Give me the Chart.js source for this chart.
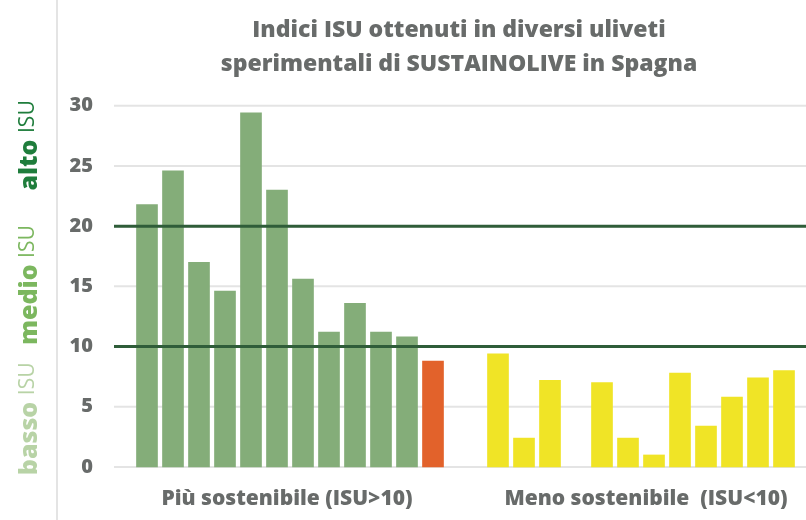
<!DOCTYPE html>
<html>
<head>
<meta charset="utf-8">
<script src="https://cdn.jsdelivr.net/npm/chart.js@4.4.1/dist/chart.umd.min.js"></script>
<style>
  html, body { margin: 0; padding: 0; background: #fff; }
  #wrap { width: 806px; height: 520px; position: relative; }
</style>
</head>
<body>
<div id="wrap"><canvas id="isuChart" width="806" height="520"></canvas></div>
<script>
const titleLines = ['Indici ISU ottenuti in diversi uliveti', 'sperimentali di SUSTAINOLIVE in Spagna'];
const groupNames = ['Più sostenibile (ISU>10)', 'Meno sostenibile  (ISU<10)'];

const moreSites = ['P1', 'P2', 'P3', 'P4', 'P5', 'P6', 'P7', 'P8', 'P9', 'P10', 'P11', 'P12'];
const moreValues = [21.8, 24.6, 17.0, 14.6, 29.4, 23.0, 15.6, 11.2, 13.6, 11.2, 10.8, 8.8];

const lessSites = ['M1', 'M2', 'M3', 'M4', 'M5', 'M6', 'M7', 'M8', 'M9', 'M10', 'M11', 'M12'];
const lessValues = [9.4, 2.4, 7.2, null, 7.0, 2.4, 1.0, 7.8, 3.4, 5.8, 7.4, 8.0];

const yTicks = [0, 5, 10, 15, 20, 25, 30];
const thresholds = [10, 20];
const bandWords = ['basso', 'medio', 'alto'];

const GREEN = '#84ad79';
const ORANGE = '#e2622b';
const YELLOW = '#f0e426';
const TEXT_GREY = '#686b6a';
const bandColors = ['#b8d3a6', '#7cb75f', '#1f7d3c'];

// the two groups sit on two hidden category axes, the second shifted by half a slot
const moreLabels = moreSites.concat(new Array(13).fill(''));
const lessLabels = new Array(14).fill('').concat(lessSites);

const decorPlugin = {
    id: 'decor',
    beforeDatasetsDraw(chart) {
        const { ctx, chartArea } = chart;
        const y = chart.scales.y;
        ctx.save();
        // left divider
        ctx.strokeStyle = '#e4e4e4';
        ctx.lineWidth = 2;
        ctx.beginPath();
        ctx.moveTo(57, 0);
        ctx.lineTo(57, chart.height);
        ctx.stroke();
        // gridlines running past the plot area
        yTicks.forEach(v => {
            const py = y.getPixelForValue(v);
            ctx.beginPath();
            ctx.moveTo(chartArea.left - 20, py);
            ctx.lineTo(chart.width, py);
            ctx.stroke();
        });
        ctx.restore();
    },
    afterDatasetsDraw(chart) {
        const { ctx, chartArea } = chart;
        const y = chart.scales.y;
        ctx.save();
        ctx.strokeStyle = '#2f5d39';
        ctx.lineWidth = 3;
        thresholds.forEach(v => {
            const py = y.getPixelForValue(v);
            ctx.beginPath();
            ctx.moveTo(chartArea.left - 20, py);
            ctx.lineTo(chart.width, py);
            ctx.stroke();
        });
        ctx.restore();
    },
    afterDraw(chart) {
        const { ctx, chartArea } = chart;
        const x = chart.scales.x;
        const x2 = chart.scales.x2;
        const y = chart.scales.y;
        ctx.save();

        // group captions under the bars
        ctx.fillStyle = TEXT_GREY;
        ctx.font = '800 21px "Open Sans"';
        ctx.textAlign = 'center';
        ctx.textBaseline = 'alphabetic';
        const c1 = (x.getPixelForValue(0) + x.getPixelForValue(moreSites.length - 1)) / 2;
        const c2 = (x2.getPixelForValue(14) + x2.getPixelForValue(lessLabels.length - 1)) / 2;
        ctx.fillText(groupNames[0], c1 - 3, chartArea.bottom + 38);
        ctx.fillText(groupNames[1], c2 + 5, chartArea.bottom + 38);

        // rotated band names on the left
        const centers = [4.0, 15.1, 26.7];
        bandWords.forEach((word, i) => {
            const cy = y.getPixelForValue(centers[i]);
            ctx.font = '800 25px "Open Sans"';
            const w1 = ctx.measureText(word + ' ').width;
            ctx.font = '400 21px "Open Sans"';
            const w2 = ctx.measureText('ISU').width;
            const total = w1 + w2;
            ctx.save();
            ctx.translate(37, cy);
            ctx.rotate(-Math.PI / 2);
            ctx.textAlign = 'left';
            ctx.fillStyle = bandColors[i];
            ctx.font = '800 25px "Open Sans"';
            ctx.fillText(word, -total / 2, 0);
            ctx.font = '400 21px "Open Sans"';
            ctx.fillText('ISU', -total / 2 + w1, -3);
            ctx.restore();
        });
        ctx.restore();
    }
};

new Chart(document.getElementById('isuChart'), {
    type: 'bar',
    data: {
        datasets: [
            {
                label: groupNames[0],
                data: moreValues,
                xAxisID: 'x',
                backgroundColor: moreValues.map((v, i) => i === moreValues.length - 1 ? ORANGE : GREEN),
                barThickness: 21,
                grouped: false,
                clip: false
            },
            {
                label: groupNames[1],
                data: lessSites.map((s, i) => ({ x: s, y: lessValues[i] })),
                xAxisID: 'x2',
                backgroundColor: YELLOW,
                barThickness: 21,
                grouped: false,
                clip: false
            }
        ]
    },
    options: {
        responsive: false,
        animation: false,
        layout: { padding: { left: 0, right: 22, top: 0, bottom: 51 } },
        plugins: {
            legend: { display: false },
            tooltip: { enabled: false },
            title: {
                display: true,
                text: titleLines,
                fullSize: false,
                color: TEXT_GREY,
                font: { family: 'Open Sans', size: 23, weight: '800', lineHeight: 1.45 },
                padding: { top: 14, bottom: 25 }
            }
        },
        scales: {
            x: {
                type: 'category',
                labels: moreLabels,
                offset: true,
                display: false
            },
            x2: {
                type: 'category',
                position: 'bottom',
                labels: lessLabels,
                offset: false,
                display: false
            },
            y: {
                min: 0,
                max: 30,
                ticks: {
                    stepSize: 5,
                    padding: 41,
                    color: TEXT_GREY,
                    font: { family: 'Open Sans', size: 20, weight: '800' }
                },
                grid: { display: false, drawTicks: false },
                border: { display: false },
                afterFit: scale => { scale.width = 134; }
            }
        }
    },
    plugins: [decorPlugin]
});
</script>
</body>
</html>
